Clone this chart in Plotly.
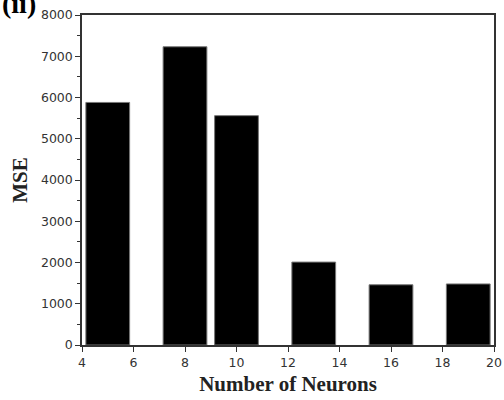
import plotly.graph_objects as go

neurons = [5, 8, 10, 13, 16, 19]
mse = [5880, 7230, 5560, 2010, 1460, 1480]
x_ticks = [4, 6, 8, 10, 12, 14, 16, 18, 20]
y_ticks = [0, 1000, 2000, 3000, 4000, 5000, 6000, 7000, 8000]

fig = go.Figure()
fig.add_trace(go.Bar(
    x=neurons, y=mse, width=1.7,
    marker=dict(color="black", line=dict(color="#777777", width=1)),
))

tickfont = dict(family="DejaVu Sans, Arial, sans-serif", size=12.5, color="#333333")
titlefont = dict(family="Liberation Serif, Times New Roman, serif", size=21, color="#222222")

fig.update_layout(
    width=504, height=400,
    margin=dict(l=82, r=10, t=15, b=55),
    paper_bgcolor="white", plot_bgcolor="white",
    showlegend=False,
    xaxis=dict(
        range=[4, 20], tickvals=x_ticks, ticktext=[str(v) for v in x_ticks],
        ticks="outside", ticklen=5, tickwidth=1, tickcolor="#333",
        showline=True, linecolor="#333", linewidth=1.5, mirror=True,
        showgrid=False, zeroline=False, tickfont=tickfont, automargin=False,
        title=dict(text="<b>Number of Neurons</b>", font=titlefont, standoff=8),
    ),
    yaxis=dict(
        range=[0, 8000], tickvals=y_ticks, ticktext=[str(v) for v in y_ticks],
        ticks="outside", ticklen=5, tickwidth=1, tickcolor="#333",
        minor=dict(dtick=500, ticks="outside", ticklen=3, tickcolor="#333"),
        showline=True, linecolor="#333", linewidth=1.5, mirror=True,
        showgrid=False, zeroline=False, tickfont=tickfont, automargin=False,
        title=dict(text="<b>MSE</b>", font=titlefont, standoff=8),
    ),
    annotations=[dict(
        text="<b>(ii)</b>", xref="paper", yref="paper", x=-0.2, y=1,
        xanchor="left", yanchor="bottom", yshift=-6, showarrow=False,
        font=dict(family="Liberation Serif, Times New Roman, serif", size=28, color="black"),
    )],
)

fig.write_html("out.html", config={"displayModeBar": False},
               post_script="document.body.style.margin='0';")
